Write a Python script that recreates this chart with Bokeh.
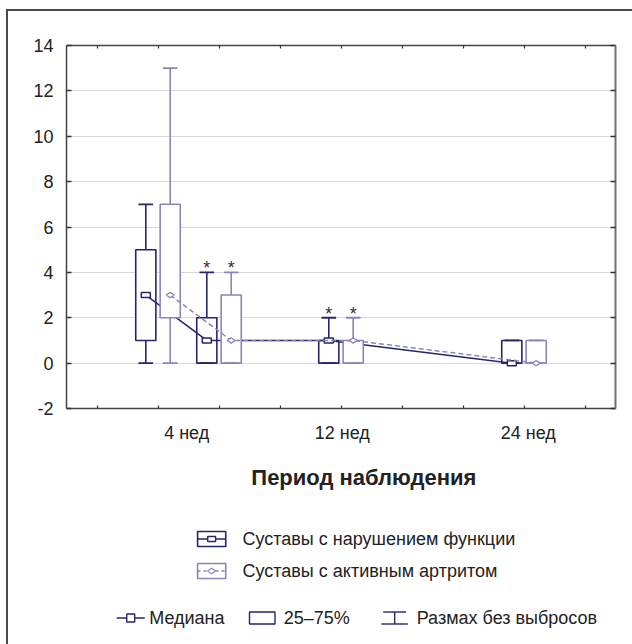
import math
from bokeh.plotting import figure
from bokeh.models import Range1d, LinearAxis, FixedTicker, Grid
from bokeh.layouts import column
from bokeh.core.properties import value
from bokeh.embed import file_html
from bokeh.resources import INLINE

# ---------------- data ----------------
weeks = [0, 4, 12, 24]
tick_labels = ["4 нед", "12 нед", "24 нед"]
tick_label_pos = [1.97, 4.52, 7.57]
y_ticks = [-2, 0, 2, 4, 6, 8, 10, 12, 14]

# Суставы с нарушением функции
f_min = [0, 0, 0, 0]
f_q1 = [1, 0, 0, 0]
f_med = [3, 1, 1, 0]
f_q3 = [5, 2, 1, 1]
f_max = [7, 4, 2, 1]

# Суставы с активным артритом
a_min = [0, 0, 0, 0]
a_q1 = [2, 0, 0, 0]
a_med = [3, 1, 1, 0]
a_q3 = [7, 3, 1, 1]
a_max = [13, 4, 2, 1]

significant = [False, True, True, False]

series_names = ["Суставы с нарушением функции", "Суставы с активным артритом"]
legend_names = ["Медиана", "25–75%", "Размах без выбросов"]
x_title = "Период наблюдения"

# ---------------- style ----------------
DARK = "#25256f"
LIGHT = "#8787b8"
TXT = "#222222"
FONT = "Liberation Sans"
BOXW = 0.33
CAPW = 0.24
OFF = 0.2

xc = [1.5 + w / 4 for w in weeks]
xd = [x - OFF for x in xc]
xl = [x + OFF for x in xc]

p = figure(width=624, height=444, x_range=Range1d(0, 9), y_range=Range1d(-2, 14),
           output_backend="svg", toolbar_location=None,
           x_axis_type=None, y_axis_type=None,
           min_border_left=58, min_border_right=17, min_border_top=34, min_border_bottom=47)
p.outline_line_color = None
p.background_fill_color = "white"
p.border_fill_color = "white"

p.add_layout(Grid(dimension=1, ticker=FixedTicker(ticks=[t for t in y_ticks if -2 < t < 14]),
                  grid_line_color="#b0b0b0", grid_line_dash="1 1", grid_line_width=1))

minor_x = [i + 0.5 for i in range(9)]

left = LinearAxis(ticker=FixedTicker(ticks=y_ticks), major_tick_in=5, major_tick_out=0,
                  minor_tick_line_color=None, major_label_text_font_size="18px",
                  major_label_text_font=FONT, major_label_text_color=TXT,
                  major_label_overrides={t: str(t) for t in y_ticks},
                  axis_line_color="#444444", axis_line_width=1.5,
                  major_tick_line_color="#333333", major_tick_line_width=1.5,
                  major_label_standoff=13)
p.add_layout(left, "left")

right = LinearAxis(ticker=FixedTicker(ticks=y_ticks), major_tick_in=5, major_tick_out=0,
                   minor_tick_line_color=None, major_label_text_font_size="8px",
                   major_label_text_color=None,
                   major_label_standoff=0, axis_line_color="#707070", axis_line_width=2,
                   major_tick_line_color="#333333", major_tick_line_width=1.5)
p.add_layout(right, "right")

top = LinearAxis(ticker=FixedTicker(ticks=minor_x), major_tick_in=3, major_tick_out=0,
                 minor_tick_line_color=None, major_label_text_font_size="8px",
                 major_label_text_color=None,
                 major_label_standoff=0, axis_line_color="#444444", axis_line_width=1.5,
                 major_tick_line_color="#333333", major_tick_line_width=1.2)
p.add_layout(top, "above")

bottom = LinearAxis(ticker=FixedTicker(ticks=tick_label_pos, minor_ticks=minor_x),
                    major_tick_in=0, major_tick_out=0, minor_tick_in=3, minor_tick_out=0,
                    minor_tick_line_color="#333333", minor_tick_line_width=1.2,
                    major_label_overrides={pos: lab for pos, lab in zip(tick_label_pos, tick_labels)},
                    major_label_text_font_size="18px", major_label_text_font=FONT,
                    major_label_text_color=TXT, major_label_standoff=14,
                    axis_line_color="#444444", axis_line_width=1.5)
p.add_layout(bottom, "below")


def draw_series(xs, mn, q1, med, q3, mx, color, dash, marker):
    p.quad(left=[x - BOXW / 2 for x in xs], right=[x + BOXW / 2 for x in xs],
           bottom=q1, top=q3, fill_color="white", line_color=color, line_width=1.6)
    p.segment(x0=xs, y0=q3, x1=xs, y1=mx, line_color=color, line_width=1.6)
    p.segment(x0=xs, y0=mn, x1=xs, y1=q1, line_color=color, line_width=1.6)
    p.segment(x0=[x - CAPW / 2 for x in xs], y0=mx, x1=[x + CAPW / 2 for x in xs], y1=mx,
              line_color=color, line_width=1.8)
    p.segment(x0=[x - CAPW / 2 for x in xs], y0=mn, x1=[x + CAPW / 2 for x in xs], y1=mn,
              line_color=color, line_width=1.8)
    p.line(xs, med, line_color=color, line_width=1.5, line_dash=dash)
    if marker == "rect":
        p.rect(xs, med, width=9, height=5, width_units="screen", height_units="screen",
               fill_color="white", line_color=color, line_width=1.5)
    else:
        p.scatter(xs, med, marker="diamond", size=8, angle=math.pi / 2,
                  fill_color="white", line_color=color, line_width=1.3)


draw_series(xd, f_min, f_q1, f_med, f_q3, f_max, DARK, "solid", "rect")
draw_series(xl, a_min, a_q1, a_med, a_q3, a_max, LIGHT, "5 3", "diamond")

# asterisks
sx, sy = [], []
for i, s in enumerate(significant):
    if s:
        sx += [xd[i], xl[i]]
        sy += [f_max[i], a_max[i]]
p.text(x=sx, y=sy, text=["*"] * len(sx), text_font=value(FONT), text_font_size="18px",
       text_color="#333333", text_align="center", text_baseline="alphabetic", y_offset=-4)

# ---------------- bottom (title + legend) ----------------
q = figure(width=624, height=189, x_range=Range1d(8, 632), y_range=Range1d(644, 455),
           output_backend="svg", toolbar_location=None, x_axis_type=None, y_axis_type=None,
           min_border_left=0, min_border_right=0, min_border_top=0, min_border_bottom=0)
q.outline_line_color = None
q.border_fill_color = "white"

q.text(x=[346], y=[477], text=[x_title], text_font=value(FONT), text_font_style="bold",
       text_font_size="22px", text_color=TXT, text_align="center", text_baseline="middle")

rows_y = [538.5, 570.5]
for ry, col, dash, mk, name in zip(rows_y, [DARK, LIGHT], ["solid", "3 3"], ["rect", "diamond"], series_names):
    q.quad(left=[157], right=[189], top=[ry - 7.5], bottom=[ry + 7.5], fill_color="white",
           line_color=col, line_width=1.6)
    q.segment(x0=[157], y0=[ry], x1=[189], y1=[ry], line_color=col, line_width=1.4, line_dash=dash)
    if mk == "rect":
        q.rect([173], [ry], width=9, height=5, fill_color="white", line_color=col, line_width=1.4)
    else:
        q.scatter([173], [ry], marker="diamond", size=8, angle=math.pi / 2,
                  fill_color="white", line_color=col, line_width=1.3)
    q.text(x=[208], y=[ry], text=[name], text_font=value(FONT), text_font_size="18px",
           text_color=TXT, text_align="left", text_baseline="middle")

ry = 617.5
q.segment(x0=[65], y0=[ry], x1=[97], y1=[ry], line_color=DARK, line_width=1.4)
q.rect([81], [ry], width=9, height=8, fill_color="white", line_color=DARK, line_width=1.4)
q.text(x=[102], y=[ry], text=[legend_names[0]], text_font=value(FONT), text_font_size="18px",
       text_color=TXT, text_align="left", text_baseline="middle")

q.quad(left=[216], right=[245], top=[ry - 6], bottom=[ry + 6], fill_color="white",
       line_color=DARK, line_width=1.4)
q.text(x=[255], y=[ry], text=[legend_names[1]], text_font=value(FONT), text_font_size="18px",
       text_color=TXT, text_align="left", text_baseline="middle")

q.segment(x0=[368, 381, 366], y0=[ry - 6, ry - 6, ry + 6], x1=[394, 381, 396], y1=[ry - 6, ry + 6, ry + 6],
          line_color=DARK, line_width=1.4)
q.text(x=[406], y=[ry], text=[legend_names[2]], text_font=value(FONT), text_font_size="18px",
       text_color=TXT, text_align="left", text_baseline="middle")

layout = column(p, q, styles={"border-left": "2px solid #4a4a4a", "border-top": "2px solid #4a4a4a",
                              "margin-left": "6px", "margin-top": "9px"})

open("out.html", "w").write(file_html(layout, INLINE))
